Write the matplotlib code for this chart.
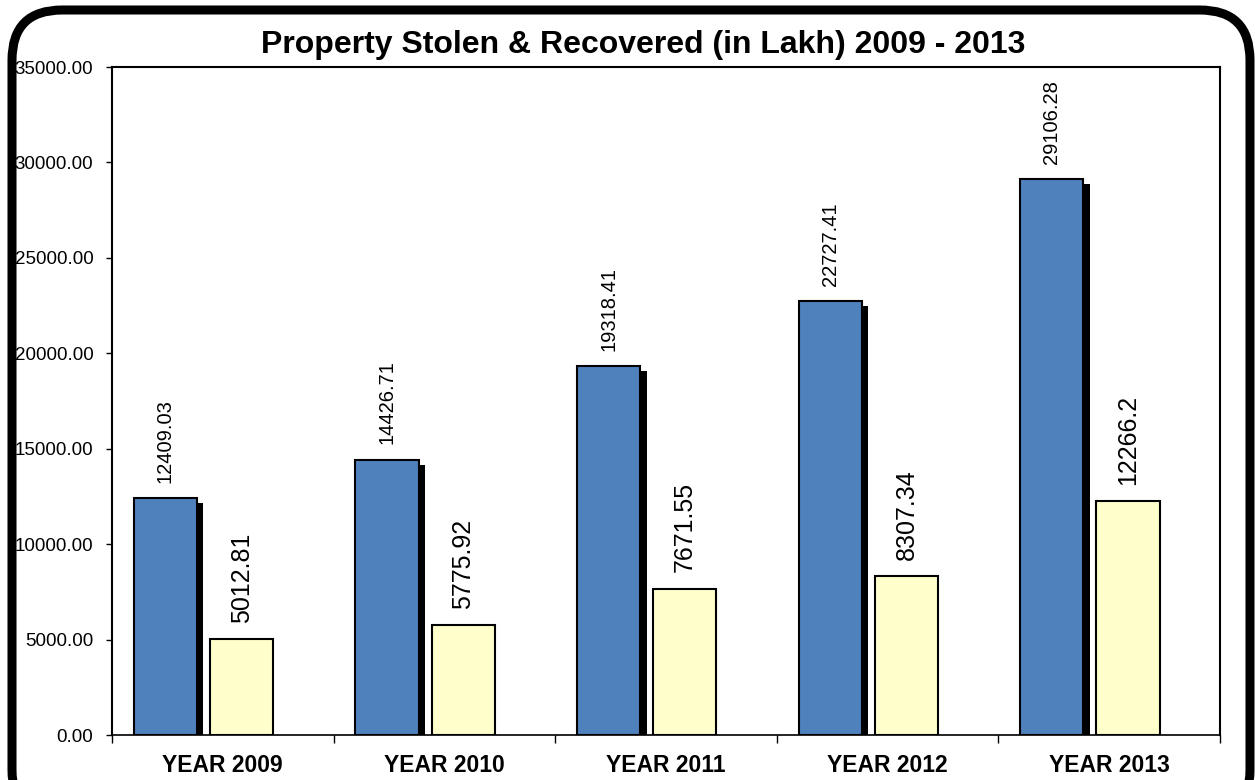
import matplotlib
matplotlib.use("Agg")
import matplotlib.pyplot as plt
from matplotlib.patches import FancyBboxPatch
from matplotlib.ticker import FuncFormatter, FixedLocator
import numpy as np

plt.rcParams['font.family'] = ['Liberation Sans', 'DejaVu Sans']

years = ["YEAR 2009", "YEAR 2010", "YEAR 2011", "YEAR 2012", "YEAR 2013"]
stolen = [12409.03, 14426.71, 19318.41, 22727.41, 29106.28]
recovered = [5012.81, 5775.92, 7671.55, 8307.34, 12266.2]
stolen_lbl = ["12409.03", "14426.71", "19318.41", "22727.41", "29106.28"]
recovered_lbl = ["5012.81", "5775.92", "7671.55", "8307.34", "12266.2"]

W, H = 1255, 780
fig = plt.figure(figsize=(W / 100, H / 100), dpi=100)

# rounded outer frame
frame = FancyBboxPatch((12 / W, -40 / H), 1238 / W, 810 / H,
                       boxstyle="round,pad=0,rounding_size=0.04",
                       transform=fig.transFigure, fill=False,
                       edgecolor="black", linewidth=6.5, mutation_aspect=W / H)
fig.patches.append(frame)

ax = fig.add_axes([112 / W, 1 - 735 / H, (1220 - 112) / W, (735 - 67) / H])

x = np.arange(len(years))
bw = 0.285
blue_off = -0.259
yel_off = 0.085

# shadow behind blue bars
ax.bar(x + blue_off + 0.029, np.array(stolen) - 260, width=bw,
       color="black", edgecolor="black", linewidth=0, zorder=2)
ax.bar(x + blue_off, stolen, width=bw, color="#4f81bd",
       edgecolor="black", linewidth=1.5, zorder=3)
ax.bar(x + yel_off, recovered, width=bw, color="#ffffcc",
       edgecolor="black", linewidth=1.5, zorder=3)

for i in range(len(years)):
    ax.text(x[i] + blue_off, stolen[i] + 800, stolen_lbl[i], rotation=90,
            ha="center", va="bottom", fontsize=14.5)
    ax.text(x[i] + yel_off, recovered[i] + 850, recovered_lbl[i], rotation=90,
            ha="center", va="bottom", fontsize=18)

ax.set_xlim(-0.5, 4.5)
ax.set_ylim(0, 35000)
ax.yaxis.set_major_locator(FixedLocator(np.arange(0, 35001, 5000)))
ax.yaxis.set_major_formatter(FuncFormatter(lambda v, p: "%.2f" % v))
ax.tick_params(axis="y", direction="out", length=4.5, width=1, labelsize=13.5, pad=9)

ax.set_xticks(x)
ax.set_xticklabels(years, fontsize=16.5, fontweight="bold")
ax.tick_params(axis="x", length=0, pad=14)
ax.set_xticks(np.arange(-0.5, 5.0, 1.0), minor=True)
ax.tick_params(axis="x", which="minor", direction="out", length=6, width=1)

for s in ax.spines.values():
    s.set_linewidth(1.5)
ax.spines["bottom"].set_linewidth(1.2)

fig.text(643 / W, 1 - 45 / H, "Property Stolen & Recovered (in Lakh) 2009 - 2013",
         ha="center", va="center", fontsize=23, fontweight="bold")

fig.savefig("out.png", dpi=100)
